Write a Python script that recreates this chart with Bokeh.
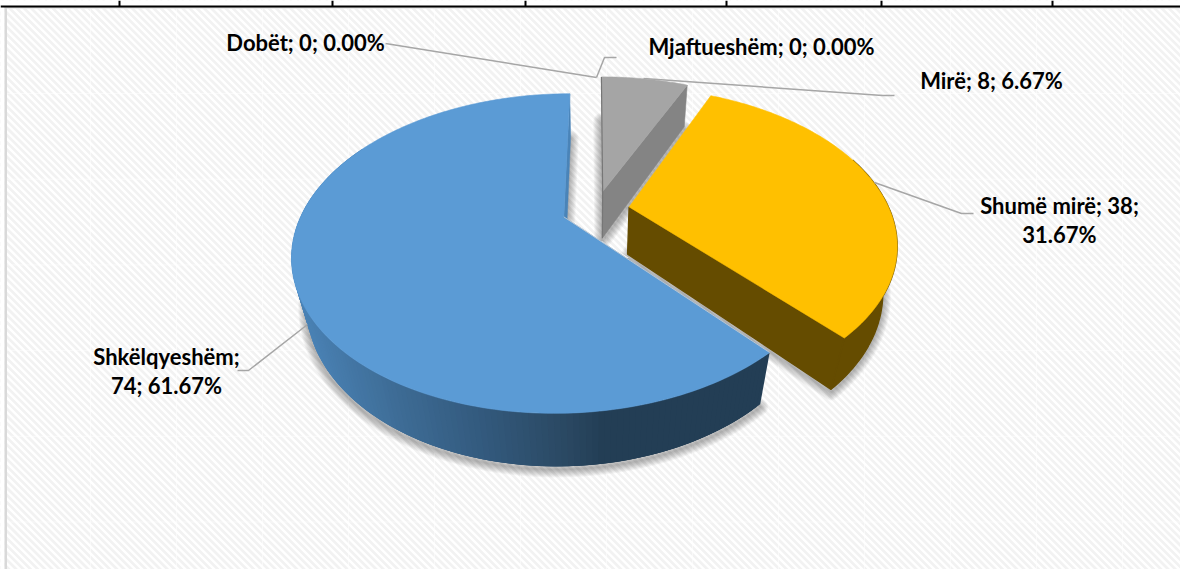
import math
from bokeh.plotting import figure
from bokeh.core.properties import value
from bokeh.embed import file_html
from bokeh.resources import INLINE

# ---- data -------------------------------------------------------------
categories = ["Dobët", "Mjaftueshëm", "Mirë", "Shumë mirë", "Shkëlqyeshëm"]
counts = [0, 0, 8, 38, 74]
top_colors = ["#7f7f7f", "#ffc000", "#a5a5a5", "#ffc000", "#5b9bd5"]
wall_colors = ["#5b5b5b", "#654c00", "#848484", "#654c00", "#233e55"]

# ---- labels: (text lines) ----------------------------------------------
total = sum(counts)
pct = [c / total * 100 for c in counts]
label_rows = {
    "Dobët": [f"Dobët; {counts[0]}; {pct[0]:.2f}%"],
    "Mjaftueshëm": [f"Mjaftueshëm; {counts[1]}; {pct[1]:.2f}%"],
    "Mirë": [f"Mirë; {counts[2]}; {pct[2]:.2f}%"],
    "Shumë mirë": [f"Shumë mirë; {counts[3]};", f"{pct[3]:.2f}%"],
    "Shkëlqyeshëm": ["Shkëlqyeshëm;", f"{counts[4]}; {pct[4]:.2f}%"],
}
label_pos = {
    "Dobët": [(305, 41.5)],
    "Mjaftueshëm": [(761, 46)],
    "Mirë": [(991, 80)],
    "Shumë mirë": [(1059, 205), (1059, 234)],
    "Shkëlqyeshëm": [(166, 356), (166, 385)],
}
leaders = {
    "Dobët": [(385, 43), (596, 77)],
    "Mjaftueshëm": [(596, 77), (604, 57), (616, 57)],
    "Mirë": [(643, 78), (882, 95), (894, 95)],
    "Shumë mirë": [(874, 182), (961, 213), (973, 213)],
    "Shkëlqyeshëm": [(307, 324), (248, 370), (237, 370)],
}

# ---- projection of the tilted pie (page pixels as data space) -----------
W, H = 1180, 569
CX, CY, A, B, K = 595.3, 209.4, 260.5, 148.2, 0.227
EXPLODE = 0.13


def top(X, Y):
    d = 1 + K * Y
    return CX + A * X / d, CY - B * Y / d


def bottom(X, Y):
    u, v = top(X, Y)
    s = 0.955 + 0.012 * Y
    return CX + (u - CX) * s, v + 47.3 - 5.5 * Y


def rim(theta, off):
    t = math.radians(theta)
    return off[0] + math.sin(t), off[1] + math.cos(t)


def arc(t0, t1, off, n):
    return [rim(t0 + (t1 - t0) * i / n, off) for i in range(n + 1)]


def poly(pts):
    return [q[0] for q in pts], [q[1] for q in pts]


def lerp_color(x):
    stops = [(300, (0x4a, 0x82, 0xb5)), (400, (0x3d, 0x6b, 0x94)), (480, (0x33, 0x5a, 0x7e)),
             (570, (0x2a, 0x48, 0x62)), (605, (0x23, 0x3e, 0x55))]
    if x <= stops[0][0]:
        return "#%02x%02x%02x" % stops[0][1]
    for (a, ca), (b, cb) in zip(stops, stops[1:]):
        if x <= b:
            f = (x - a) / (b - a)
            return "#%02x%02x%02x" % tuple(round(p + (q - p) * f) for p, q in zip(ca, cb))
    return "#%02x%02x%02x" % stops[-1][1]


# slices clockwise from 12 o'clock, in the data's order
slices = {}
angle = 0.0
for name, cnt, tc, wc in zip(categories, counts, top_colors, wall_colors):
    sweep = cnt / total * 360
    mid = math.radians(angle + sweep / 2)
    off = (EXPLODE * math.sin(mid), EXPLODE * math.cos(mid))
    slices[name] = dict(t0=angle, t1=angle + sweep, off=off, top=tc, wall=wc)
    angle += sweep

p = figure(width=W, height=H, x_range=(0, W), y_range=(H, 0), toolbar_location=None,
           output_backend="svg", min_border=0, outline_line_color=None,
           background_fill_color="white", border_fill_color="white")
p.axis.visible = False
p.grid.visible = False

# ---- background: striped chart area ------------------------------------
p.quad(left=[4], right=[W], top=[6], bottom=[H], fill_color="#ffffff", line_color=None)
PERIOD = 7.2
xs, ys = [], []
c = -H - 20
while c < W + 20:
    xs.append([c, c + H + 20])
    ys.append([0, H + 20])
    c += PERIOD
p.multi_line(xs, ys, line_color="#f2f2f2", line_width=2.7)
# faint seams of the background texture
sx = [[90 + 86 * i, 90 + 86 * i] for i in range(13)]
sy = [[8, H] for _ in range(13)]
hx = [[6, W] for _ in range(6)]
hy = [[93 + 85.7 * i] * 2 for i in range(6)]
p.multi_line(sx + hx, sy + hy, line_color="#ffffff", line_width=1, line_alpha=0.55)
# frame and the table rule above the chart
p.quad(left=[0], right=[W], top=[0], bottom=[8], fill_color="#ffffff", line_color=None)
p.quad(left=[0], right=[4], top=[0], bottom=[H], fill_color="#ffffff", line_color=None)
p.quad(left=[4], right=[6.5], top=[6], bottom=[H], fill_color="#d9d9d9", line_color=None)
p.quad(left=[4], right=[W], top=[6], bottom=[8], fill_color="#d9d9d9", line_color=None)
p.quad(left=[0], right=[W], top=[5], bottom=[7], fill_color="#000000", line_color=None)
tick_x = [119, 332, 525, 726, 881, 1052]
p.quad(left=[v - 1 for v in tick_x], right=[v + 1 for v in tick_x], top=[0] * 6, bottom=[6] * 6,
       fill_color="#000000", line_color=None)

# ---- soft shadows, from the bottom face of each slice ------------------
for name in ["Mirë", "Shumë mirë", "Shkëlqyeshëm"]:
    s = slices[name]
    pts = [bottom(*s["off"])] + [bottom(*q) for q in arc(s["t0"], s["t1"], s["off"], 120)]
    x, y = poly(pts)
    y = [v + 3 for v in y]
    for w in (16, 14, 12, 10, 8, 6, 4, 2):
        p.line(x + x[:1], y + y[:1], line_color="#000000", line_alpha=0.04, line_width=w,
               line_join="round")

# ---- gray slice --------------------------------------------------------
s = slices["Mirë"]
wall = [top(*s["off"]), top(*rim(s["t1"], s["off"])), bottom(*rim(s["t1"], s["off"])), bottom(*s["off"])]
p.patch(*poly(wall), fill_color=s["wall"], line_color=s["wall"], line_width=0.6)
x, y = poly([top(*s["off"])] + [top(*q) for q in arc(s["t0"], s["t1"], s["off"], 30)])
p.patch(x, y, fill_color=s["top"], line_color=s["top"], line_width=0.6)
ax, ay = poly([bottom(*s["off"]), top(*s["off"]), top(*rim(s["t0"], s["off"]))])
p.line(ax, ay, line_color="#767676", line_width=1.2)

# ---- yellow slice ------------------------------------------------------
s = slices["Shumë mirë"]
outer = [top(*q) for q in arc(70, s["t1"], s["off"], 60)]
inner = [bottom(*q) for q in arc(s["t1"], 70, s["off"], 60)]
p.patch(*poly(outer + inner), fill_color=s["wall"], line_color=s["wall"], line_width=1.4)
wall = [top(*s["off"]), top(*rim(s["t1"], s["off"])), bottom(*rim(s["t1"], s["off"])), bottom(*s["off"])]
p.patch(*poly(wall), fill_color=s["wall"], line_color=s["wall"], line_width=1.4)
x, y = poly([top(*s["off"])] + [top(*q) for q in arc(s["t0"], s["t1"], s["off"], 120)])
p.patch(x, y, fill_color=s["top"], line_color=s["top"], line_width=0.6)

# ---- blue slice --------------------------------------------------------
s = slices["Shkëlqyeshëm"]
wall = [top(*s["off"]), top(*rim(s["t1"], s["off"])), bottom(*rim(s["t1"], s["off"])), bottom(*s["off"])]
p.patch(*poly(wall), fill_color="#4a84b8", line_color="#4a84b8", line_width=0.4)
# side wall drawn right to left in overlapping pieces, so no seams show
seg = arc(s["t0"], 300, s["off"], 150)
qx, qy, qc = [], [], []
for i in range(len(seg) - 1):
    a_, b_ = seg[i], seg[min(i + 3, len(seg) - 1)]
    x, y = poly([top(*a_), top(*b_), bottom(*b_), bottom(*a_)])
    qx.append(x)
    qy.append(y)
    qc.append(lerp_color(top(*a_)[0]))
p.patches(qx, qy, fill_color=qc, line_color=None)
x, y = poly([top(*s["off"])] + [top(*q) for q in arc(s["t0"], s["t1"], s["off"], 200)])
p.patch(x, y, fill_color=s["top"], line_color=s["top"], line_width=0.6)
ex, ey = poly([top(*s["off"]), top(*rim(s["t0"], s["off"]))])
p.line(ex, ey, line_color="#c9ced3", line_width=0.9, line_alpha=0.9)

# ---- leader lines and labels -------------------------------------------
for name in categories:
    x, y = poly(leaders[name])
    p.line(x, y, line_color="#a6a6a6", line_width=1.5)
    rows = label_rows[name]
    pos = label_pos[name]
    p.text([q[0] for q in pos], [q[1] for q in pos], text=rows, text_font=value("Lato"),
           text_font_style="bold", text_font_size="22px", text_color="#000000",
           text_align="center", text_baseline="alphabetic")

open("out.html", "w").write(file_html(p, INLINE))
